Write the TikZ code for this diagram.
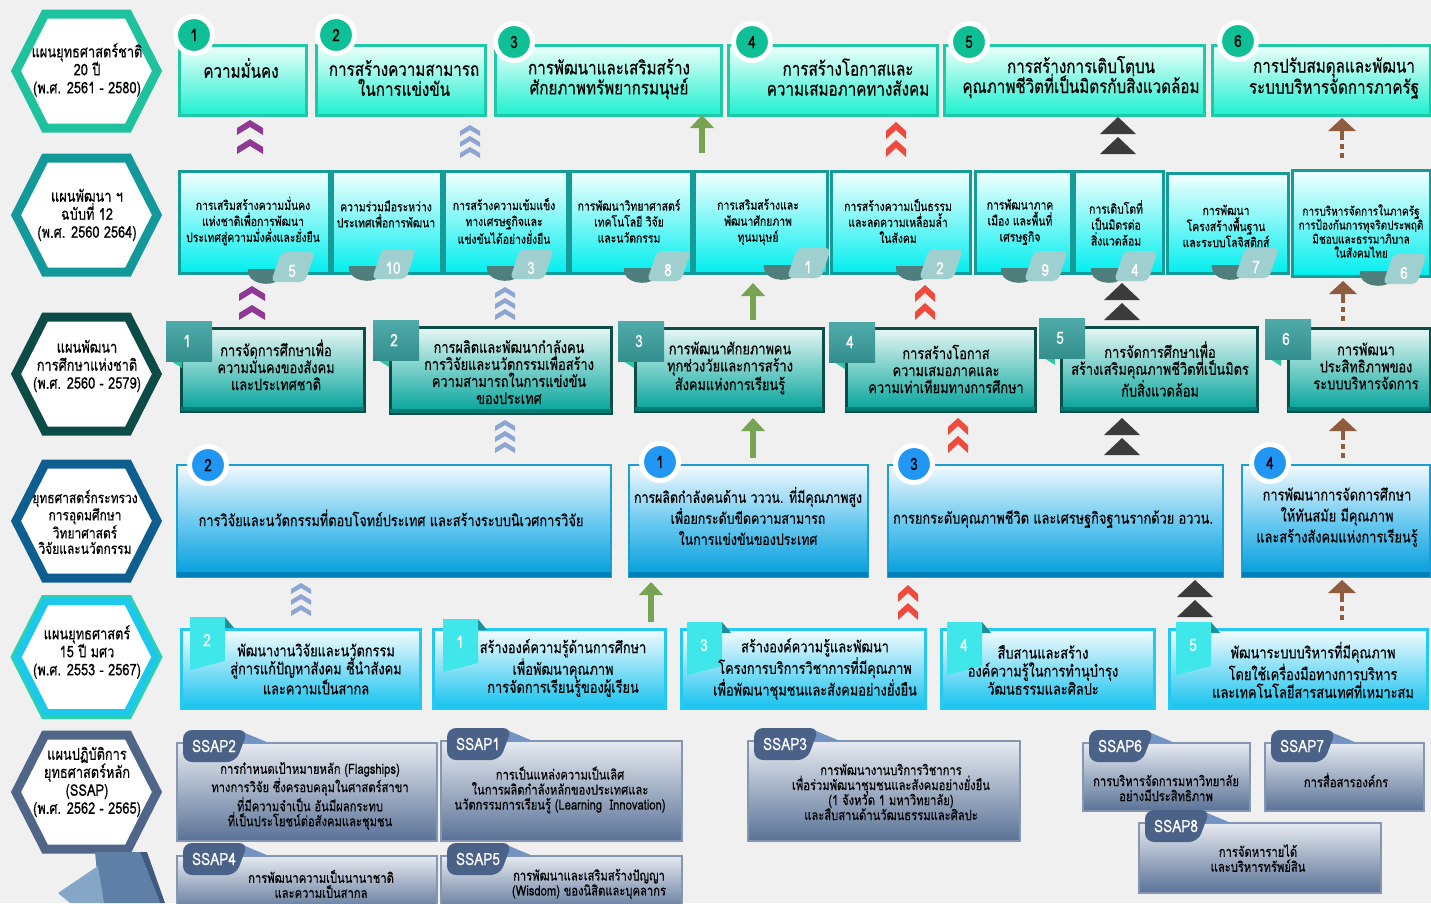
\documentclass[tikz,border=0pt]{standalone}
\usepackage{fontspec}
\setmainfont[Script=Thai,FakeStretch=0.8,FakeBold=0.4]{Loma}
\newcommand\fsz[2]{\fontsize{#1pt}{#2pt}\selectfont}
\definecolor{bg}{HTML}{F0F0F0}
\definecolor{hexA}{HTML}{1EC39E}
\definecolor{hexB}{HTML}{14999A}
\definecolor{hexC}{HTML}{0C4B46}
\definecolor{hexD}{HTML}{0E5F90}
\definecolor{hexEo}{HTML}{2BD2B0}
\definecolor{hexE}{HTML}{1CC8EC}
\definecolor{hexF}{HTML}{4F6689}
\definecolor{ra}{HTML}{20C9A5}
\definecolor{rat}{HTML}{EEFFFA}
\definecolor{rab}{HTML}{1CF0D0}
\definecolor{rac}{HTML}{0FBF95}
\definecolor{rb}{HTML}{169C98}
\definecolor{rbt}{HTML}{F4FFFF}
\definecolor{rbb}{HTML}{00EEEE}
\definecolor{tagl}{HTML}{9FCFCF}
\definecolor{tagd}{HTML}{4E7F7D}
\definecolor{rc}{HTML}{0C4D48}
\definecolor{rct}{HTML}{E8F7F5}
\definecolor{rcb}{HTML}{00A39A}
\definecolor{rcband}{HTML}{007E76}
\definecolor{tabt}{HTML}{4FAAAA}
\definecolor{tabb}{HTML}{338F8D}
\definecolor{tabf}{HTML}{2EC6A2}
\definecolor{rd}{HTML}{1B9ED4}
\definecolor{rdt}{HTML}{F3F9FE}
\definecolor{rdm}{HTML}{6CCAF0}
\definecolor{rdb}{HTML}{009CDC}
\definecolor{rdband}{HTML}{0080B8}
\definecolor{rdc}{HTML}{2196F3}
\definecolor{re}{HTML}{22CAF2}
\definecolor{ret}{HTML}{F6FCFF}
\definecolor{reb}{HTML}{16C2EE}
\definecolor{retab}{HTML}{3FE6EA}
\definecolor{refold}{HTML}{1E8F92}
\definecolor{rf}{HTML}{8597B0}
\definecolor{rft}{HTML}{E6EAF0}
\definecolor{rfb}{HTML}{5A7297}
\definecolor{stabd}{HTML}{4A6188}
\definecolor{stabl}{HTML}{7394C2}
\definecolor{purp}{HTML}{8E3A95}
\definecolor{bluech}{HTML}{8DA6D1}
\definecolor{redch}{HTML}{EE4B3C}
\definecolor{darktri}{HTML}{3B3B3B}
\definecolor{greenc}{HTML}{78A355}
\definecolor{brownc}{HTML}{8F5C3E}
\definecolor{decoA}{HTML}{5E7FA6}
\definecolor{decoB}{HTML}{86A6C8}
\definecolor{decoC}{HTML}{3F5A80}

% hexagon: cx cy inset style
\newcommand\hexa[4]{\path[#4] ({#1-71+#3},{#2}) -- ({#1-42+#3*0.5},{#2-57+#3}) -- ({#1+41-#3*0.5},{#2-57+#3}) -- ({#1+70-#3},{#2}) -- ({#1+41-#3*0.5},{#2+57-#3}) -- ({#1-42+#3*0.5},{#2+57-#3}) -- cycle;}
% box: style x1 y1 x2 y2 name
\newcommand\bx[6]{\node[#1, anchor=north west, inner sep=0pt, minimum width={#4-#2}, minimum height={#5-#3}] (#6) at (#2,#3) {};}
% darker band at the bottom of a box
\newcommand\band[2]{\fill[#2] ([xshift=1.2pt,yshift=6pt]#1.south west) rectangle ([xshift=-1.2pt,yshift=1.2pt]#1.south east);}
% chevron: x ytop halfwidth drop thickness color
\newcommand\chevron[6]{\fill[#6] ({#1},{#2}) -- ({#1+#3},{#2+#4}) -- ({#1+#3},{#2+#4+#5}) -- ({#1},{#2+#5}) -- ({#1-#3},{#2+#4+#5}) -- ({#1-#3},{#2+#4}) -- cycle;}
\newcommand\purparrow[2]{\chevron{#1}{#2}{13}{8}{7}{purp}\chevron{#1}{#2+19}{13}{8}{7}{purp}}
\newcommand\bluearrow[2]{\chevron{#1}{#2}{10}{6}{5}{bluech}\chevron{#1}{#2+11}{10}{6}{5}{bluech}\chevron{#1}{#2+22}{10}{6}{5}{bluech}}
\newcommand\redarrow[2]{\chevron{#1}{#2}{10}{9}{8}{redch}\chevron{#1}{#2+18}{10}{9}{8}{redch}}
\newcommand\darkarrow[2]{\fill[darktri] ({#1},{#2}) -- ({#1+18},{#2+17}) -- ({#1-18},{#2+17}) -- cycle;
 \fill[darktri] ({#1},{#2+20}) -- ({#1+18},{#2+37}) -- ({#1-18},{#2+37}) -- cycle;}
\newcommand\greenarrow[3]{\draw[greenc, line width=6pt] ({#1},{#2+10}) -- ({#1},{#3});
 \fill[greenc] ({#1},{#2}) -- ({#1+12},{#2+13}) -- ({#1-12},{#2+13}) -- cycle;}
\newcommand\brownarrow[3]{\draw[brownc, line width=4pt, dash pattern=on 5pt off 4pt] ({#1},{#2+17}) -- ({#1},{#3});
 \fill[brownc] ({#1},{#2}) -- ({#1+14},{#2+13}) -- ({#1-14},{#2+13}) -- cycle;
 \fill[brownc] ({#1-2},{#2+12}) rectangle ({#1+2},{#2+17});}
% row2 tag: x y num
\newcommand\rtag[3]{\fill[tagd] ({#1-44},{#2-2}) .. controls ({#1-46},{#2+14}) and ({#1-20},{#2+16}) .. ({#1-14},{#2+9}) -- ({#1-10},{#2-2}) -- cycle;
 \fill[tagl, rounded corners=5pt] ({#1-21},{#2+11}) -- ({#1+13},{#2+11}) -- ({#1+23},{#2-19}) -- ({#1-11},{#2-19}) -- cycle;
 \node[tagnum] (tag#3) at ({#1},{#2}) {#3};}
% row3 tab: x y num
\newcommand\ctab[3]{\fill[tabf] ({#1+5},{#2+40}) -- ({#1+16},{#2+40}) -- ({#1+16},{#2+47}) -- cycle;
 \shade[top color=tabt, bottom color=tabb] ({#1},{#2}) rectangle ({#1+46},{#2+40});
 \node[tabnum] (ct#3) at ({#1+21},{#2+20}) {#3};}
% row5 tab: x y num
\newcommand\etab[3]{\fill[refold] ({#1+35},{#2}) -- ({#1+44},{#2+11}) -- ({#1+35},{#2+11}) -- cycle;
 \fill[retab] ({#1},{#2}) -- ({#1+35},{#2}) -- ({#1+35},{#2+44}) -- ({#1},{#2+53}) -- cycle;
 \node[tabnum] (et#3) at ({#1+17},{#2+23}) {#3};}
% SSAP tab: bx by label
\newcommand\stab[3]{\fill[stabl] ({#1+62},{#2-12}) -- ({#1+93},{#2+1}) -- ({#1+56},{#2+1}) -- cycle;
 \fill[stabd, rounded corners=9pt] ({#1+7},{#2+20}) -- ({#1+7},{#2-12}) -- ({#1+72},{#2-12}) -- ({#1+60},{#2+20}) -- cycle;
 \node[stabtxt] (#3) at ({#1+38},{#2+4}) {#3};}

\begin{document}
\begin{tikzpicture}[x=1pt,y=-1pt,
  rowA/.style={draw=ra, line width=2.5pt, top color=rat, bottom color=rab},
  rowB/.style={draw=rb, line width=2.5pt, top color=rbt, bottom color=rbb},
  rowC/.style={draw=rc, line width=2.5pt, top color=rct, bottom color=rcb},
  rowD/.style={draw=rd, line width=2pt, top color=rdt, bottom color=rdb, middle color=rdm},
  rowE/.style={draw=re, line width=2.5pt, top color=ret, bottom color=reb},
  rowF/.style={draw=rf, line width=2pt, top color=rft, bottom color=rfb},
  txt/.style={align=center, inner sep=0pt, text=black},
  hxt/.style={txt, font=\fsz{16}{18}},
  tA/.style={txt, font=\fsz{19}{20}},
  tB/.style={txt, font=\fsz{13}{16}},
  tC/.style={txt, font=\fsz{16}{17}},
  tD/.style={txt, font=\fsz{16}{21}},
  tE/.style={txt, font=\fsz{16}{18}},
  tF/.style={txt, font=\fsz{14}{15}},
  circA/.style={circle, fill=rac, draw=white, line width=5pt, minimum size=37pt, inner sep=0pt, font=\fsz{17}{17}},
  circD/.style={circle, fill=rdc, draw=white, line width=5pt, minimum size=37pt, inner sep=0pt, font=\fsz{17}{17}},
  tagnum/.style={inner sep=0pt, text=white, font=\fsz{17}{17}},
  tabnum/.style={inner sep=0pt, text=white, font=\fsz{17}{17}},
  stabtxt/.style={inner sep=0pt, text=white, font=\fsz{17}{17}}
]
\fill[bg] (0,0) rectangle (1431,903);
\useasboundingbox (0,0) rectangle (1431,903);

% ---------- hexagons ----------
\hexa{87}{71}{0}{draw=hexA, fill=white, line width=9pt}
\hexa{87}{215}{0}{draw=hexB, fill=white, line width=9pt}
\hexa{87}{374}{0}{draw=hexC, fill=white, line width=9pt}
\hexa{87}{521}{0}{draw=hexD, fill=white, line width=9pt}
\hexa{87}{657}{0}{draw=hexEo, fill=white, line width=10pt}
\hexa{87}{657}{1.5}{draw=hexE, line width=7pt}
\hexa{87}{792}{0}{draw=hexF, fill=white, line width=9pt}
\fill[decoA] (95,852) -- (140,852) -- (160,903) -- (100,903) -- cycle;
\fill[decoC] (140,852) -- (147,852) -- (165,903) -- (160,903) -- cycle;
\fill[decoB] (58,893) -- (98,866) -- (104,903) -- (70,903) -- cycle;

\node[hxt] (h1) at (87,70) {แผนยุทธศาสตร์ชาติ\\20 ปี\\(พ.ศ. 2561 - 2580)};
\node[hxt] (h2) at (87,215) {แผนพัฒนา ฯ\\ฉบับที่ 12\\(พ.ศ. 2560 2564)};
\node[hxt] (h3) at (87,366) {แผนพัฒนา\\การศึกษาแห่งชาติ\\(พ.ศ. 2560 - 2579)};
\node[hxt, font=\fsz{15}{15.5}] (h4) at (85,522) {ยุทธศาสตร์กระทรวง\\การอุดมศึกษา\\วิทยาศาสตร์\\วิจัยและนวัตกรรม};
\node[hxt] (h5) at (87,652) {แผนยุทธศาสตร์\\15 ปี มศว\\(พ.ศ. 2553 - 2567)};
\node[hxt] (h6) at (87,782) {แผนปฏิบัติการ\\ยุทธศาสตร์หลัก\\(SSAP)\\(พ.ศ. 2562 - 2565)};

% ---------- row 1 ----------
\bx{rowA}{178}{44}{305}{114}{A1}
\bx{rowA}{315}{44}{484}{114}{A2}
\bx{rowA}{494}{44}{720}{114}{A3}
\bx{rowA}{727}{44}{936}{114}{A4}
\bx{rowA}{943}{44}{1203}{114}{A5}
\bx{rowA}{1211}{44}{1429}{114}{A6}
\node[circA] (cA1) at (194,35) {1};
\node[circA] (cA2) at (336,35) {2};
\node[circA] (cA3) at (514,42) {3};
\node[circA] (cA4) at (752,42) {4};
\node[circA] (cA5) at (969,42) {5};
\node[circA] (cA6) at (1238,41) {6};
\node[tA] (tA1) at (241,68) {ความมั่นคง};
\node[tA] (tA2) at (404,78) {การสร้างความสามารถ\\ในการแข่งขัน};
\node[tA] (tA3) at (609,79) {การพัฒนาและเสริมสร้าง\\ศักยภาพทรัพยากรมนุษย์};
\node[tA] (tA4) at (848,77) {การสร้างโอกาสและ\\ความเสมอภาคทางสังคม};
\node[tA] (tA5) at (1081,77) {การสร้างการเติบโตบน\\คุณภาพชีวิตที่เป็นมิตรกับสิ่งแวดล้อม};
\node[tA] (tA6) at (1334,78) {การปรับสมดุลและพัฒนา\\ระบบบริหารจัดการภาครัฐ};

% arrows 1-2
\purparrow{250}{120}
\bluearrow{470}{125}
\greenarrow{702}{115}{153}
\redarrow{896}{122}
\darkarrow{1118}{117}
\brownarrow{1342}{118}{158}

% ---------- row 2 ----------
\bx{rowB}{178}{170}{328}{272}{B1}
\bx{rowB}{331}{170}{440}{272}{B2}
\bx{rowB}{443}{170}{566}{272}{B3}
\bx{rowB}{569}{170}{690}{272}{B4}
\bx{rowB}{693}{170}{826}{272}{B5}
\bx{rowB}{830}{170}{969}{272}{B6}
\bx{rowB}{974}{170}{1070}{272}{B7}
\bx{rowB}{1073}{170}{1162}{272}{B8}
\bx{rowB}{1166}{172}{1287}{272}{B9}
\bx{rowB}{1291}{169}{1429}{275}{B10}
\node[tB] (tB1) at (253,221) {การเสริมสร้างความมั่นคง\\แห่งชาติเพื่อการพัฒนา\\ประเทศสู่ความมั่งคั่งและยั่งยืน};
\node[tB] (tB2) at (386,214) {ความร่วมมือระหว่าง\\ประเทศเพื่อการพัฒนา};
\node[tB] (tB3) at (504,221) {การสร้างความเข้มแข็ง\\ทางเศรษฐกิจและ\\แข่งขันได้อย่างยั่งยืน};
\node[tB] (tB4) at (629,221) {การพัฒนาวิทยาศาสตร์\\เทคโนโลยี วิจัย\\และนวัตกรรม};
\node[tB] (tB5) at (758,222) {การเสริมสร้างและ\\พัฒนาศักยภาพ\\ทุนมนุษย์};
\node[tB] (tB6) at (898,221) {การสร้างความเป็นธรรม\\และลดความเหลื่อมล้ำ\\ในสังคม};
\node[tB] (tB7) at (1020,222) {การพัฒนาภาค\\เมือง และพื้นที่\\เศรษฐกิจ};
\node[tB] (tB8) at (1116,223) {การเติบโตที่\\เป็นมิตรต่อ\\สิ่งแวดล้อม};
\node[tB] (tB9) at (1226,226) {การพัฒนา\\โครงสร้างพื้นฐาน\\และระบบโลจิสติกส์};
\node[tB, font=\fsz{12.5}{14}] (tB10) at (1361,231) {การบริหารจัดการในภาครัฐ\\การป้องกันการทุจริตประพฤติ\\มิชอบและธรรมาภิบาล\\ในสังคมไทย};
\rtag{292}{271}{5}
\rtag{393}{268}{10}
\rtag{531}{268}{3}
\rtag{668}{270}{8}
\rtag{808}{267}{1}
\rtag{940}{268}{2}
\rtag{1045}{270}{9}
\rtag{1135}{270}{4}
\rtag{1256}{267}{7}
\rtag{1404}{273}{6}

% arrows 2-3
\purparrow{252}{286}
\bluearrow{505}{287}
\greenarrow{753}{283}{320}
\redarrow{925}{285}
\darkarrow{1122}{283}
\brownarrow{1343}{281}{322}

% ---------- row 3 ----------
\bx{rowC}{180}{327}{363}{410}{C1}
\bx{rowC}{389}{326}{610}{412}{C2}
\bx{rowC}{634}{327}{822}{410}{C3}
\bx{rowC}{845}{327}{1034}{410}{C4}
\bx{rowC}{1060}{326}{1256}{410}{C5}
\bx{rowC}{1287}{327}{1429}{410}{C6}
\band{C1}{rcband}\band{C2}{rcband}\band{C3}{rcband}\band{C4}{rcband}\band{C5}{rcband}\band{C6}{rcband}
\ctab{166}{321}{1}
\ctab{373}{320}{2}
\ctab{618}{321}{3}
\ctab{829}{322}{4}
\ctab{1039}{318}{5}
\ctab{1265}{319}{6}
\node[tC] (tC1) at (276,365) {การจัดการศึกษาเพื่อ\\ความมั่นคงของสังคม\\และประเทศชาติ};
\node[tC] (tC2) at (509,372) {การผลิตและพัฒนากำลังคน\\การวิจัยและนวัตกรรมเพื่อสร้าง\\ความสามารถในการแข่งขัน\\ของประเทศ};
\node[tC] (tC3) at (730,368) {การพัฒนาศักยภาพคน\\ทุกช่วงวัยและการสร้าง\\สังคมแห่งการเรียนรู้};
\node[tC] (tC4) at (946,369) {การสร้างโอกาส\\ความเสมอภาคและ\\ความเท่าเทียมทางการศึกษา};
\node[tC] (tC5) at (1160,369) {การจัดการศึกษาเพื่อ\\สร้างเสริมคุณภาพชีวิตที่เป็นมิตร\\กับสิ่งแวดล้อม};
\node[tC] (tC6) at (1366,366) {การพัฒนา\\ประสิทธิภาพของ\\ระบบบริหารจัดการ};

% arrows 3-4
\bluearrow{505}{420}
\greenarrow{753}{418}{458}
\redarrow{958}{418}
\darkarrow{1122}{418}
\brownarrow{1343}{418}{460}

% ---------- row 4 ----------
\bx{rowD}{176}{464}{610}{576}{D1}
\bx{rowD}{628}{464}{867}{576}{D2}
\bx{rowD}{887}{464}{1222}{576}{D3}
\bx{rowD}{1241}{464}{1429}{576}{D4}
\band{D1}{rdband}\band{D2}{rdband}\band{D3}{rdband}\band{D4}{rdband}
\node[circD] (cD2) at (208,465) {2};
\node[circD] (cD1) at (660,462) {1};
\node[circD] (cD3) at (914,464) {3};
\node[circD] (cD4) at (1270,463) {4};
\node[tD] (tD1) at (391,518) {การวิจัยและนวัตกรรมที่ตอบโจทย์ประเทศ และสร้างระบบนิเวศการวิจัย};
\node[tD, font=\fsz{15.5}{21}] (tD2) at (748,516) {การผลิตกำลังคนด้าน วววน. ที่มีคุณภาพสูง\\เพื่อยกระดับขีดความสามารถ\\ในการแข่งขันของประเทศ};
\node[tD] (tD3) at (1053,519) {การยกระดับคุณภาพชีวิต และเศรษฐกิจฐานรากด้วย อววน.};
\node[tD] (tD4) at (1337,517) {การพัฒนาการจัดการศึกษา\\ให้ทันสมัย มีคุณภาพ\\และสร้างสังคมแห่งการเรียนรู้};

% arrows 4-5
\bluearrow{301}{583}
\greenarrow{651}{582}{622}
\redarrow{908}{585}
\darkarrow{1195}{580}
\brownarrow{1342}{580}{622}

% ---------- row 5 ----------
\bx{rowE}{180}{628}{419}{707}{E1}
\bx{rowE}{432}{628}{664}{707}{E2}
\bx{rowE}{680}{628}{924}{707}{E3}
\bx{rowE}{940}{628}{1153}{707}{E4}
\bx{rowE}{1168}{628}{1426}{707}{E5}
\etab{190}{617}{2}
\etab{443}{619}{1}
\etab{687}{622}{3}
\etab{947}{622}{4}
\etab{1176}{622}{5}
\node[tE] (tE1) at (316,669) {พัฒนางานวิจัยและนวัตกรรม\\สู่การแก้ปัญหาสังคม ชี้นำสังคม\\และความเป็นสากล};
\node[tE] (tE2) at (563,668) {สร้างองค์ความรู้ด้านการศึกษา\\เพื่อพัฒนาคุณภาพ\\การจัดการเรียนรู้ของผู้เรียน};
\node[tE] (tE3) at (815,669) {สร้างองค์ความรู้และพัฒนา\\โครงการบริการวิชาการที่มีคุณภาพ\\เพื่อพัฒนาชุมชนและสังคมอย่างยั่งยืน};
\node[tE] (tE4) at (1043,670) {สืบสานและสร้าง\\องค์ความรู้ในการทำนุบำรุง\\วัฒนธรรมและศิลปะ};
\node[tE] (tE5) at (1313,670) {พัฒนาระบบบริหารที่มีคุณภาพ\\โดยใช้เครื่องมือทางการบริหาร\\และเทคโนโลยีสารสนเทศที่เหมาะสม};

% ---------- row 6 (SSAP) ----------
\bx{rowF}{176}{742}{436}{840}{F2}
\bx{rowF}{440}{740}{681}{840}{F1}
\bx{rowF}{176}{855}{436}{912}{F4}
\bx{rowF}{440}{855}{681}{912}{F5}
\bx{rowF}{747}{740}{1019}{840}{F3}
\bx{rowF}{1082}{742}{1249}{810}{F6}
\bx{rowF}{1264}{742}{1423}{810}{F7}
\bx{rowF}{1138}{822}{1380}{892}{F8}
\stab{176}{742}{SSAP2}
\stab{440}{740}{SSAP1}
\stab{176}{855}{SSAP4}
\stab{440}{855}{SSAP5}
\stab{747}{740}{SSAP3}
\stab{1082}{742}{SSAP6}
\stab{1264}{742}{SSAP7}
\stab{1138}{822}{SSAP8}
\node[tF] (tF2) at (310,796) {การกำหนดเป้าหมายหลัก (Flagships)\\ทางการวิจัย ซึ่งครอบคลุมในศาสตร์สาขา\\ที่มีความจำเป็น อันมีผลกระทบ\\ที่เป็นประโยชน์ต่อสังคมและชุมชน};
\node[tF] (tF1) at (560,790) {การเป็นแหล่งความเป็นเลิศ\\ในการผลิตกำลังหลักของประเทศและ\\นวัตกรรมการเรียนรู้ (Learning~~Innovation)};
\node[tF] (tF4) at (321,884) {การพัฒนาความเป็นนานาชาติ\\และความเป็นสากล};
\node[tF] (tF5) at (589,884) {การพัฒนาและเสริมสร้างปัญญา\\(Wisdom) ของนิสิตและบุคลากร};
\node[tF] (tF3) at (891,792) {การพัฒนางานบริการวิชาการ\\เพื่อร่วมพัฒนาชุมชนและสังคมอย่างยั่งยืน\\(1 จังหวัด 1 มหาวิทยาลัย)\\และสืบสานด้านวัฒนธรรมและศิลปะ};
\node[tF] (tF6) at (1166,788) {การบริหารจัดการมหาวิทยาลัย\\อย่างมีประสิทธิภาพ};
\node[tF] (tF7) at (1346,780) {การสื่อสารองค์กร};
\node[tF] (tF8) at (1258,858) {การจัดหารายได้\\และบริหารทรัพย์สิน};
\end{tikzpicture}
\end{document}
